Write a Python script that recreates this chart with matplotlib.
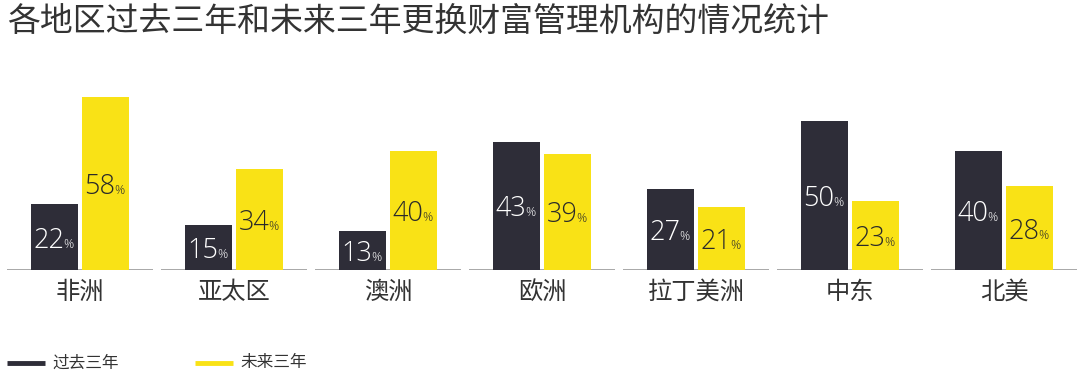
import matplotlib
matplotlib.use("Agg")
import matplotlib.pyplot as plt
from matplotlib.lines import Line2D

plt.rcParams['font.family'] = ['Noto Sans CJK SC', 'DejaVu Sans']

title = "各地区过去三年和未来三年更换财富管理机构的情况统计"
categories = ["非洲", "亚太区", "澳洲", "欧洲", "拉丁美洲", "中东", "北美"]
past = [22, 15, 13, 43, 27, 50, 40]
future = [58, 34, 40, 39, 21, 23, 28]
series_names = ["过去三年", "未来三年"]

dark = "#2e2d38"
yellow = "#f9e216"
text_col = "#333333"
num_font = ['Open Sans', 'DejaVu Sans']

fig = plt.figure(figsize=(10.8, 3.92), dpi=100)
ax = fig.add_axes([0, 122/392, 1, 179/392])
ax.set_xlim(-80/154, 1000/154)
ax.set_ylim(0, 60)
ax.axis('off')

w = 47/154
off = 25.5/154
for i, (p, f) in enumerate(zip(past, future)):
    ax.bar(i - off, p, width=w, color=dark, zorder=2)
    ax.bar(i + off, f, width=w, color=yellow, zorder=2)
    ax.plot([i - 0.474, i + 0.474], [0, 0], color="#9a9a9a", lw=1.2, zorder=1,
            solid_capstyle='butt')
    for xc, v, col in ((i - off, p, "white"), (i + off, f, "#2a2a2a")):
        ax.annotate(str(v), xy=(xc + 0.065, v / 2), xytext=(0, -7.5),
                    textcoords='offset points', ha='right', va='baseline',
                    fontsize=19.5, color=col, zorder=3, family=num_font,
                    fontweight='light')
        ax.annotate("%", xy=(xc + 0.058, v / 2), xytext=(0, -7.5),
                    textcoords='offset points', ha='left', va='baseline',
                    fontsize=9, color=col, zorder=3, family=num_font,
                    fontweight='light')
    ax.text(i, -3.0, categories[i], ha='center', va='top', fontsize=17.5,
            color=text_col)

fig.text(7/1080, 1 - 22/392, title, ha='left', va='center', fontsize=23.7,
         color=text_col)

# legend
for x0, col, name in ((7, dark, series_names[0]), (195, yellow, series_names[1])):
    fig.add_artist(Line2D([x0/1080, (x0 + 38)/1080], [1 - 363/392, 1 - 363/392],
                          color=col, lw=3.5, solid_capstyle='butt'))
    fig.text((x0 + 45)/1080, 1 - 363/392, name, ha='left', va='center',
             fontsize=12, color=text_col)

fig.savefig("out.png", dpi=100, facecolor="white")
